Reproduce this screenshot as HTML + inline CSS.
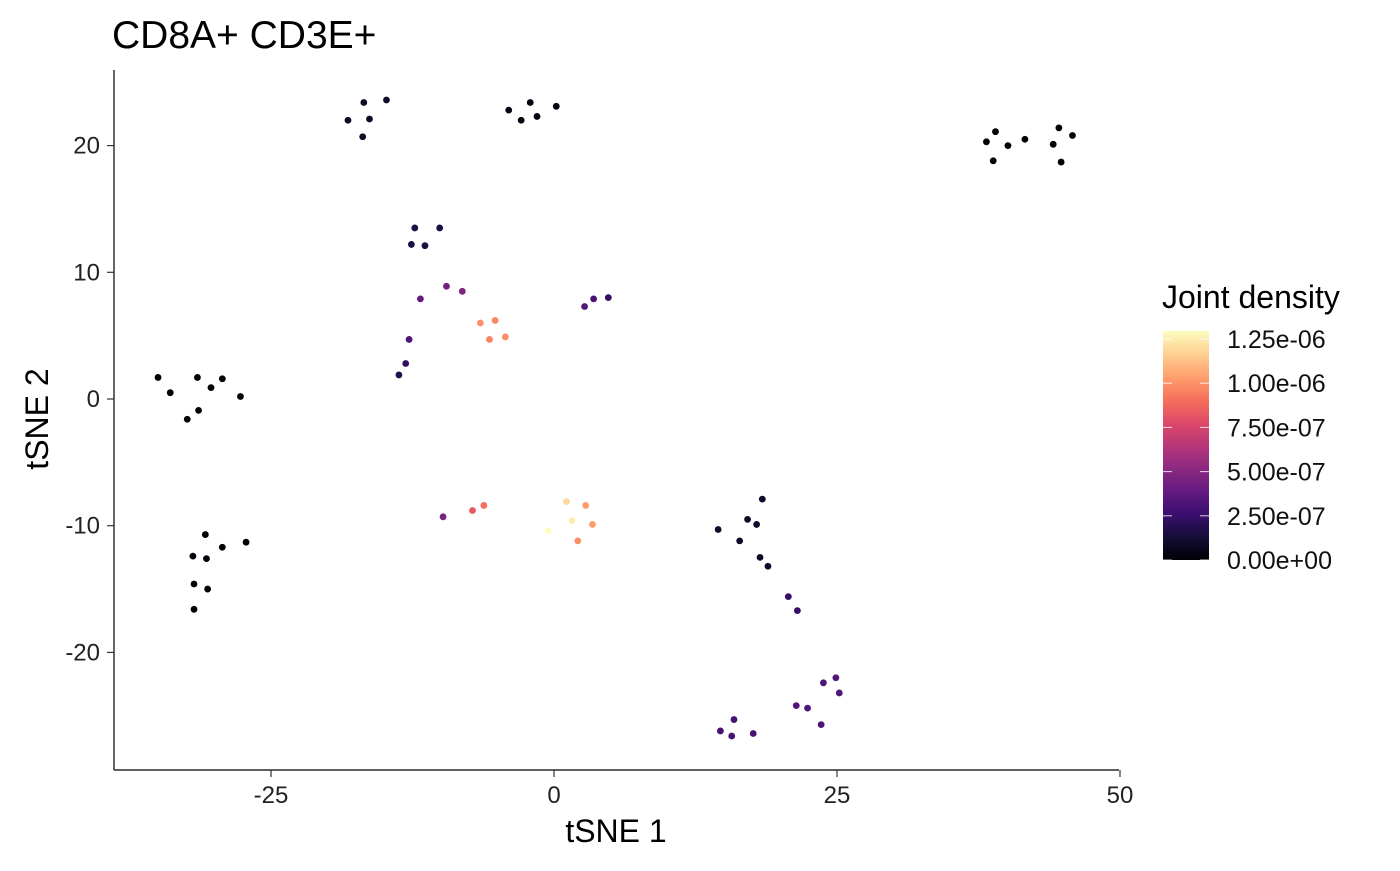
<!DOCTYPE html>
<html><head><meta charset="utf-8"><style>
body{margin:0;background:#fff}
svg text{font-family:"Liberation Sans",sans-serif}
</style></head><body>
<svg id="chart" width="1400" height="866">
<defs>
<linearGradient id="mg" x1="0" y1="1" x2="0" y2="0">
<stop offset="0" stop-color="#000004"/><stop offset="0.1" stop-color="#140e36"/><stop offset="0.2" stop-color="#3b0f70"/><stop offset="0.3" stop-color="#641a80"/><stop offset="0.4" stop-color="#8c2981"/><stop offset="0.5" stop-color="#b73779"/><stop offset="0.6" stop-color="#de4968"/><stop offset="0.7" stop-color="#f7705c"/><stop offset="0.8" stop-color="#fe9f6d"/><stop offset="0.9" stop-color="#fecf92"/><stop offset="1" stop-color="#fcfdbf"/>
</linearGradient>
</defs>
<text x="112" y="48" font-size="39" fill="#000">CD8A+ CD3E+</text>
<g id="plot"></g>
<text x="616" y="842" font-size="32" text-anchor="middle">tSNE 1</text>
<text transform="translate(48,419) rotate(-90)" font-size="32" text-anchor="middle">tSNE 2</text>
<text x="1162" y="308" font-size="32">Joint density</text>
<rect x="1163" y="331" width="46" height="229" fill="url(#mg)"/>
<g id="legend"></g>
</svg>
<script>
const xs=[-18.2,-16.8,-16.3,-14.8,-16.9, -4,-2.1,-2.9,-1.5,0.2, 38.2,39,38.8,40.1,41.6,44.1,44.6,44.8,45.8, -12.3,-10.1,-12.6,-11.4, -9.5,-8.1,-11.8,-12.8,-13.1,-13.7, -6.5,-5.2,-5.7,-4.3, 2.7,3.5,4.8, -34.98,-33.9,-31.5,-29.3,-31.4,-30.3,-32.4,-27.7, -30.8,-29.3,-27.2,-31.9,-30.7,-31.8,-30.6,-31.8, -9.8,-7.2,-6.2, 1.1,2.8,1.6,3.4,-0.5,2.1, 14.5,16.4,17.1,17.9,18.4,18.2,18.9,20.7,21.5, 21.4,22.4,23.8,24.9,25.2,23.6, 14.7,15.9,15.7,17.6];
const ys=[22,23.4,22.1,23.6,20.7, 22.8,23.4,22,22.3,23.1, 20.3,21.1,18.8,20,20.5,20.1,21.4,18.7,20.8, 13.5,13.5,12.2,12.1, 8.9,8.5,7.9,4.7,2.8,1.9, 6,6.2,4.7,4.9, 7.3,7.9,8, 1.7,0.5,1.7,1.6,-0.9,0.9,-1.6,0.2, -10.7,-11.7,-11.3,-12.4,-12.6,-14.6,-15,-16.6, -9.3,-8.8,-8.4, -8.1,-8.4,-9.6,-9.9,-10.4,-11.2, -10.3,-11.2,-9.5,-9.9,-7.9,-12.5,-13.2,-15.6,-16.7, -24.2,-24.4,-22.4,-22,-23.2,-25.7, -26.2,-25.3,-26.6,-26.4];
const dens=[0.9,0.9,0.9,0.9,0.9, 0.3,0.3,0.3,0.3,0.3, 0.1,0.1,0.1,0.1,0.1,0.1,0.1,0.1,0.1, 1.6,1.6,1.6,1.6, 4.4,4.8,3.9,3.3,2.3,1.8, 9.9,9.7,9.6,9.9, 3.4,3.0,2.3, 0.1,0.1,0.1,0.1,0.1,0.1,0.1,0.1, 0.1,0.1,0.1,0.1,0.1,0.1,0.1,0.1, 4.5,8.3,9.0, 11.9,10.3,12.5,10.3,12.95,9.9, 0.9,0.9,0.9,0.9,0.9,0.9,0.9,2.4,2.4, 3.3,3.3,3.3,3.3,3.3,3.3, 3.0,3.0,3.0,3.0];
const xTicks=[-25,0,25,50];
const yTicks=[-20,-10,0,10,20];
const legTicks=[0,2.5,5,7.5,10,12.5];
const legLabels=["0.00e+00","2.50e-07","5.00e-07","7.50e-07","1.00e-06","1.25e-06"];
const NS="http://www.w3.org/2000/svg";
const sx=v=>554+v*11.32, sy=v=>399-v*12.67, ly=v=>560-v/2.5*44.2;
const stops=["#000004","#140e36","#3b0f70","#641a80","#8c2981","#b73779","#de4968","#f7705c","#fe9f6d","#fecf92","#fcfdbf"];
function hx(c){return [1,3,5].map(i=>parseInt(c.substr(i,2),16));}
function magma(t){t=Math.max(0,Math.min(1,t));const p=t*10,i=Math.min(9,Math.floor(p)),f=p-i;const a=hx(stops[i]),b=hx(stops[i+1]);return "rgb("+a.map((v,k)=>Math.round(v+(b[k]-v)*f)).join(",")+")";}
function mk(tag,attrs,parent){const e=document.createElementNS(NS,tag);for(const k in attrs)e.setAttribute(k,attrs[k]);parent.appendChild(e);return e;}
const plot=document.getElementById('plot'), leg=document.getElementById('legend');
let ax=mk('line',{x1:114,y1:70,x2:114,y2:770,stroke:'#000','stroke-width':1.2},plot);


ax=mk('line',{x1:114,y1:770,x2:1119,y2:770,stroke:'#000','stroke-width':1.2},plot);


xTicks.forEach(v=>{
 const l=mk('line',{x1:sx(v),x2:sx(v),y1:770,y2:777,stroke:'#333','stroke-width':1.2},plot);
 
 
 const t=mk('text',{x:sx(v),y:803,'font-size':24,'text-anchor':'middle',fill:'#222'},plot);t.textContent=v;
 
 
});
yTicks.forEach(v=>{
 const l=mk('line',{x1:107,x2:114,y1:sy(v),y2:sy(v),stroke:'#333','stroke-width':1.2},plot);
 
 
 const t=mk('text',{x:100,y:sy(v)+8,'font-size':24,'text-anchor':'end',fill:'#222'},plot);t.textContent=v;
 
 
});
xs.forEach((x,i)=>{
 const c=mk('circle',{cx:sx(x),cy:sy(ys[i]),r:3.4,fill:magma(dens[i]/12.95)},plot);
 
 
});
legTicks.forEach((v,i)=>{
 const y=ly(v);
 mk('line',{x1:1163,x2:1172,y1:y,y2:y,stroke:'#fff','stroke-width':1,opacity:0.8},leg);
 mk('line',{x1:1200,x2:1209,y1:y,y2:y,stroke:'#fff','stroke-width':1,opacity:0.8},leg);
 const t=mk('text',{x:1227,y:y+9,'font-size':25,fill:'#111'},leg);t.textContent=legLabels[i];
 
 
});
</script>
</body></html>
